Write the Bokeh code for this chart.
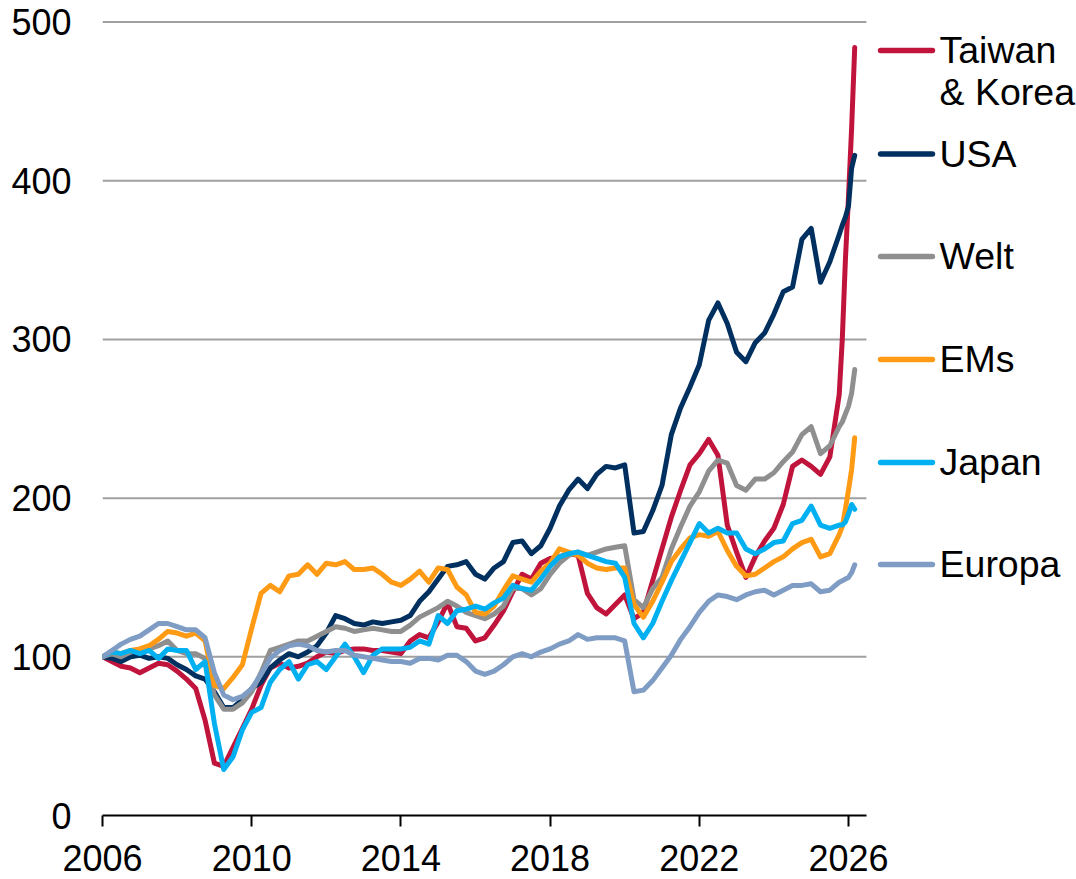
from bokeh.plotting import figure
from bokeh.models import Range1d, FixedTicker
from bokeh.core.properties import value
from bokeh.embed import file_html
from bokeh.resources import INLINE

# ---------------- data ----------------
MONTHS = [f"{y}-{m:02d}" for y in range(2006, 2026) for m in (1, 4, 7, 10)] + \
         ["2025-11", "2025-12", "2026-01", "2026-02", "2026-03"]

TAIWAN_KOREA = [100, 97, 94, 93,
                90, 93, 96, 95,
                91, 86, 80, 60,
                33, 31, 43, 55,
                67, 82, 93, 96,
                93, 94, 96, 100,
                103, 102, 104, 105,
                105, 104, 104, 103,
                102, 110, 114, 112,
                122, 134, 119, 118,
                110, 112, 120, 129,
                141, 152, 149, 159,
                162, 163, 165, 164,
                140, 131, 127, 133,
                139, 124, 128, 148,
                168, 188, 205, 221,
                228, 237, 227, 183,
                166, 150, 163, 173,
                181, 196, 220, 224,
                220, 215, 226, 265,
                300, 350, 390, 433, 484]

USA = [100, 99, 97, 100,
       101, 99, 100, 99,
       95, 92, 88, 86,
       78, 68, 68, 73,
       80, 84, 93, 98,
       102, 100, 103, 107,
       115, 126, 124, 121,
       120, 122, 121, 122,
       123, 126, 135, 141,
       149, 157, 158, 160,
       152, 149, 156, 160,
       172, 173, 165, 170,
       181, 195, 205, 212,
       206, 215, 220, 219,
       221, 178, 179, 192,
       208, 240, 257, 270,
       284, 312, 323, 310,
       292, 286, 298, 304,
       316, 330, 333, 363,
       370, 336, 349, 366,
       372, 377, 384, 408, 416]

WELT = [100, 102, 100, 103,
        104, 105, 107, 110,
        104, 102, 102, 99,
        76, 67, 67, 71,
        78, 90, 104, 106,
        108, 110, 110, 113,
        116, 119, 118, 116,
        117, 118, 117, 116,
        116, 120, 125, 128,
        131, 135, 132, 128,
        126, 124, 127, 132,
        143, 143, 139, 143,
        152, 159, 164, 166,
        164, 166, 168, 169,
        170, 136, 131, 143,
        150, 168, 182, 195,
        204, 217, 224, 222,
        208, 205, 212, 212,
        216, 223, 229, 240,
        245, 228, 233, 245,
        248, 253, 258, 266, 281]

EMS = [100, 103, 102, 104,
       105, 107, 111, 116,
       115, 113, 115, 110,
       82, 80, 87, 95,
       118, 140, 145, 141,
       151, 152, 158, 152,
       159, 158, 160, 155,
       155, 156, 152, 147,
       145, 149, 154, 147,
       156, 155, 144, 139,
       128, 127, 132, 142,
       151, 149, 147, 154,
       159, 168, 166, 164,
       159, 156, 155, 156,
       156, 133, 125, 135,
       147, 160, 168, 175,
       177, 176, 179, 167,
       157, 151, 152, 156,
       160, 163, 168, 172,
       174, 163, 165, 177,
       182, 193, 205, 218, 238]

JAPAN = [100, 103, 102, 104,
         102, 104, 99, 105,
         104, 104, 92, 97,
         58, 29, 37, 54,
         65, 68, 84, 92,
         97, 86, 95, 97,
         92, 100, 108, 100,
         90, 101, 105, 105,
         105, 106, 110, 108,
         126, 121, 129, 130,
         132, 130, 134, 137,
         145, 143, 142, 149,
         157, 163, 165, 166,
         164, 162, 160, 159,
         150, 121, 112, 121,
         135, 148, 160, 172,
         184, 178, 181, 178,
         178, 168, 165, 168,
         172, 173, 184, 186,
         195, 183, 181, 183,
         183, 185, 190, 196, 193]

EUROPA = [100, 104, 108, 111,
          113, 117, 121, 121,
          119, 117, 117, 112,
          90, 76, 73, 75,
          80, 89, 99, 104,
          107, 108, 107, 104,
          103, 104, 104, 101,
          100, 99, 98, 97,
          97, 96, 99, 99,
          98, 101, 101, 97,
          91, 89, 91, 95,
          100, 102, 100, 103,
          105, 108, 110, 114,
          111, 112, 112, 112,
          110, 78, 79, 85,
          93, 101, 111, 119,
          128, 135, 139, 138,
          136, 139, 141, 142,
          139, 142, 145, 145,
          146, 141, 142, 147,
          148, 149, 150, 153, 158]

SERIES_NAMES = ["Taiwan\n& Korea", "USA", "Welt", "EMs", "Japan", "Europa"]
SERIES_VALUES = [TAIWAN_KOREA, USA, WELT, EMS, JAPAN, EUROPA]
Y_TICKS = [0, 100, 200, 300, 400, 500]
X_TICKS = [2006, 2010, 2014, 2018, 2022, 2026]

# ---------------- style / layout ----------------
COLORS = ["#C0143C", "#00305F", "#8F8F8F", "#FF9A14", "#00B0F0", "#7F9DC4"]
FONT = "Liberation Sans"
LEFT = 102
CANVAS_W = 1076
PX_PER_YEAR = 37.3
FRAME_W = CANVAS_W - LEFT
X_END = 2006 + FRAME_W / PX_PER_YEAR
AXIS_END = 2026.48
LEGEND_X0, LEGEND_X1, LEGEND_TX = 2026.86, 2028.25, 2028.44
LEGEND_Y = [482.1, 416.9, 352.3, 287.4, 222.5, 158.2]


def to_year(s):
    y, m = s.split("-")
    return int(y) + (int(m) - 1) / 12


X = [to_year(s) for s in MONTHS]

p = figure(width=CANVAS_W, height=878, output_backend="svg", toolbar_location=None,
           x_range=Range1d(2006, X_END), y_range=Range1d(0, 501),
           min_border_left=LEFT, min_border_right=0, min_border_top=20, min_border_bottom=63)
p.outline_line_color = None
p.xgrid.visible = False
p.ygrid.visible = False
p.background_fill_color = "white"
p.border_fill_color = "white"

# horizontal gridlines, limited to the chart area
for v in Y_TICKS[1:]:
    p.segment(x0=[2006], x1=[AXIS_END], y0=[v], y1=[v], line_color="#A0A0A0", line_width=2)

# data lines
for vals, col in zip(SERIES_VALUES, COLORS):
    p.line(X, vals, line_color=col, line_width=5, line_join="round", line_cap="round")

# manual legend on the right
for name, col, ly in zip(SERIES_NAMES, COLORS, LEGEND_Y):
    p.segment(x0=[LEGEND_X0], x1=[LEGEND_X1], y0=[ly], y1=[ly], line_color=col,
              line_width=5.5, line_cap="round")
    if "\n" in name:
        p.text(x=[LEGEND_TX], y=[ly], text=[name], text_font=value(FONT), text_font_size="37.5px",
               text_baseline="top", text_align="left", text_color="black", text_line_height=1.0,
               y_offset=-21)
    else:
        p.text(x=[LEGEND_TX], y=[ly], text=[name], text_font=value(FONT), text_font_size="37.5px",
               text_baseline="middle", text_align="left", text_color="black")

# axes
xa = p.xaxis[0]
xa.ticker = FixedTicker(ticks=X_TICKS)
xa.bounds = (2006, AXIS_END)
xa.axis_line_color = "black"
xa.axis_line_width = 2
xa.major_tick_line_color = "black"
xa.major_tick_line_width = 2
xa.major_tick_out = 11
xa.major_tick_in = 0
xa.minor_tick_line_color = None
xa.major_label_text_font = FONT
xa.major_label_text_font_size = "36px"
xa.major_label_text_color = "black"
xa.major_label_standoff = 18

ya = p.yaxis[0]
ya.ticker = FixedTicker(ticks=Y_TICKS)
ya.axis_line_color = None
ya.major_tick_line_color = None
ya.minor_tick_line_color = None
ya.major_tick_out = 0
ya.major_tick_in = 0
ya.major_label_text_font = FONT
ya.major_label_text_font_size = "36px"
ya.major_label_text_color = "black"
ya.major_label_standoff = 31

open("out.html", "w").write(file_html(p, INLINE))
